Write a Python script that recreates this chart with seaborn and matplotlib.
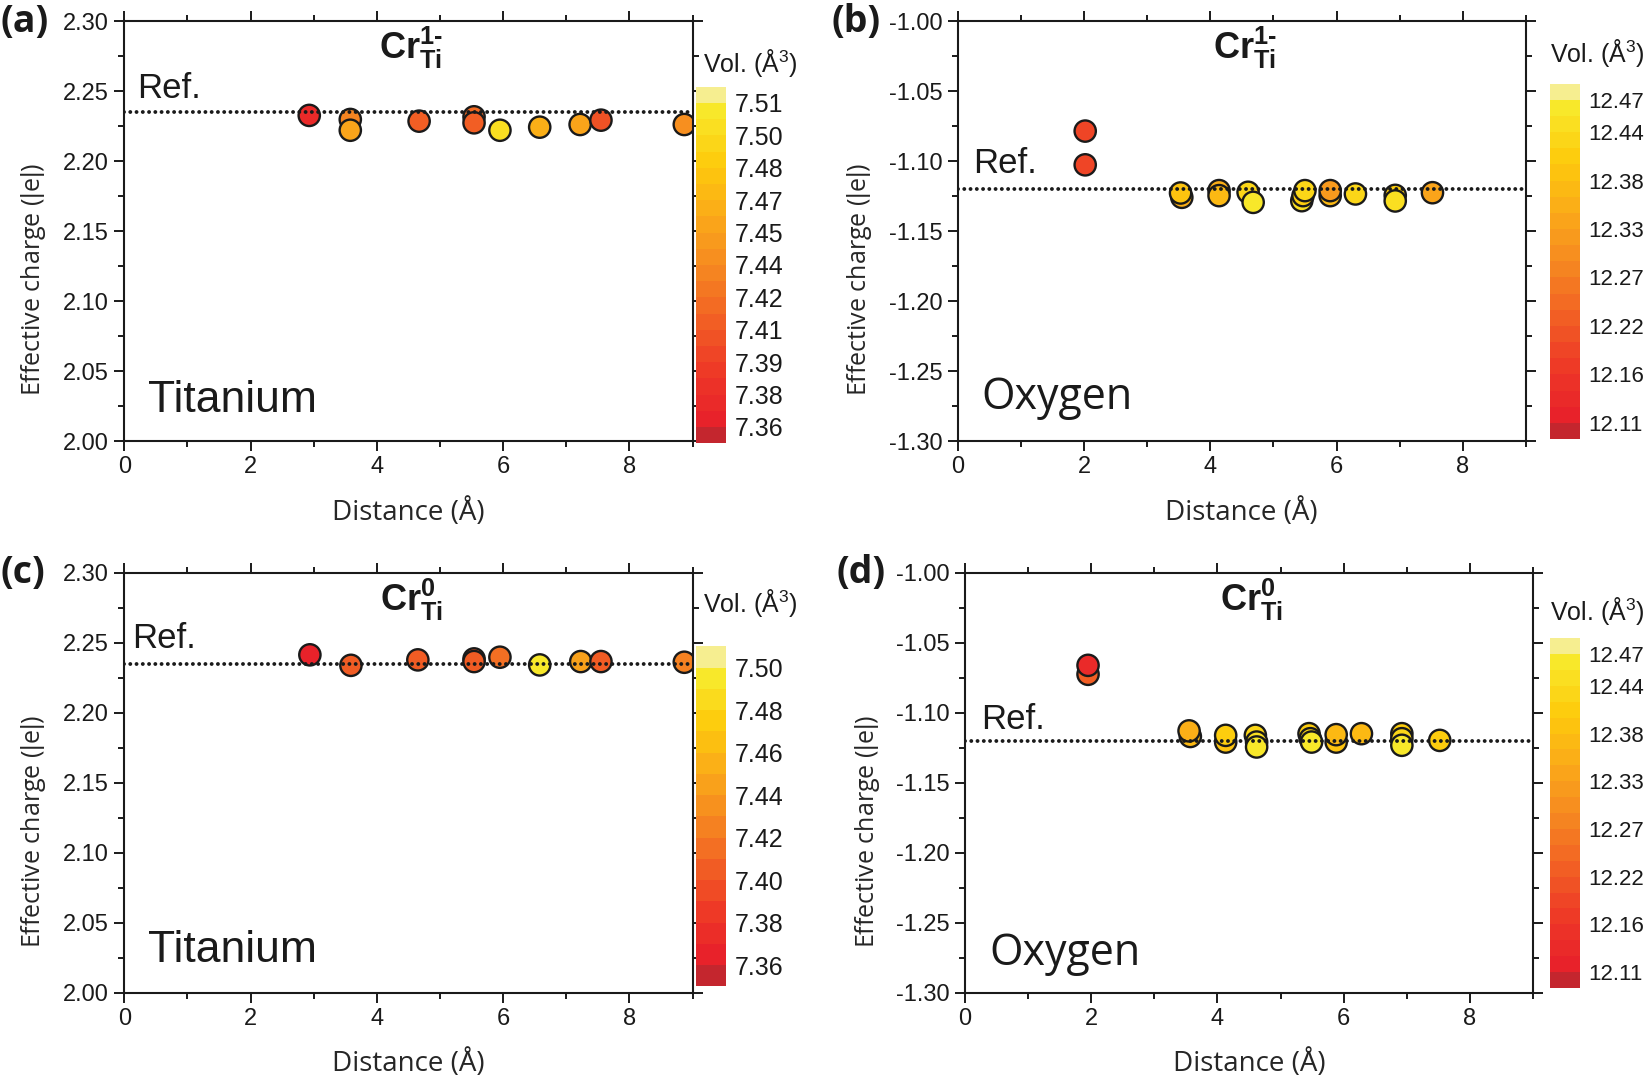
import numpy as np
import pandas as pd
import matplotlib
matplotlib.use("Agg")
import matplotlib.pyplot as plt
import seaborn as sns
from matplotlib.colors import LinearSegmentedColormap, ListedColormap, Normalize
from matplotlib.ticker import MultipleLocator, FormatStrFormatter
from matplotlib import font_manager as fm

# ---------------- data ----------------
ti_m1_dist = [2.93, 3.58, 3.58, 4.67, 5.54, 5.54, 5.95, 6.58, 7.22, 7.55, 8.87]
ti_m1_charge = [2.2326, 2.2297, 2.2220, 2.2285, 2.2316, 2.2273, 2.2220, 2.2242, 2.2261, 2.2292, 2.2261]
ti_m1_vol = [7.37, 7.43, 7.45, 7.41, 7.42, 7.41, 7.50, 7.46, 7.45, 7.40, 7.44]

o_m1_dist = [2.02, 2.02, 3.55, 3.53, 4.14, 4.14, 4.60, 4.68, 5.45, 5.47, 5.50,
             5.90, 5.90, 6.30, 6.93, 6.93, 7.52]
o_m1_charge = [-1.0786, -1.1027, -1.1259, -1.1228, -1.1211, -1.1247, -1.1223, -1.1295,
               -1.1283, -1.1247, -1.1211, -1.1247, -1.1211, -1.1235, -1.1245, -1.1285, -1.1226]
o_m1_vol = [12.19, 12.20, 12.36, 12.40, 12.35, 12.37, 12.43, 12.46, 12.45, 12.42, 12.44,
            12.38, 12.33, 12.43, 12.41, 12.45, 12.34]

ti_0_dist = [2.94, 3.59, 4.65, 5.54, 5.54, 5.95, 6.58, 7.23, 7.55, 8.87]
ti_0_charge = [2.2413, 2.2338, 2.2377, 2.2384, 2.2365, 2.2396, 2.2341, 2.2365, 2.2365, 2.2360]
ti_0_vol = [7.37, 7.41, 7.40, 7.40, 7.41, 7.42, 7.49, 7.44, 7.41, 7.43]

o_0_dist = [1.95, 1.95, 3.57, 3.55, 4.13, 4.13, 4.60, 4.62, 4.62, 5.45, 5.47, 5.49,
            5.88, 5.88, 6.28, 6.92, 6.92, 6.92, 7.52]
o_0_charge = [-1.0726, -1.0662, -1.1170, -1.1130, -1.1210, -1.1162, -1.1162, -1.1210, -1.1245,
              -1.1150, -1.1186, -1.1210, -1.1210, -1.1157, -1.1150, -1.1150, -1.1186, -1.1233, -1.1198]
o_0_vol = [12.23, 12.13, 12.38, 12.35, 12.40, 12.41, 12.43, 12.45, 12.46, 12.42, 12.44, 12.46,
           12.40, 12.37, 12.37, 12.41, 12.43, 12.46, 12.42]

ref_ti = 2.235
ref_o = -1.120

cb_a_labels = ["7.36", "7.38", "7.39", "7.41", "7.42", "7.44", "7.45", "7.47", "7.48", "7.50", "7.51"]
cb_c_labels = ["7.36", "7.38", "7.40", "7.42", "7.44", "7.46", "7.48", "7.50"]
cb_o_labels = ["12.11", "12.16", "12.22", "12.27", "12.33", "12.38", "12.44", "12.47"]
cb_o_ticks = [12.11, 12.165, 12.22, 12.275, 12.33, 12.385, 12.44, 12.4767]

# ---------------- style ----------------
sns.set_theme(style="ticks")
names = {f.name for f in fm.fontManager.ttflist}
BASE = "Liberation Sans" if "Liberation Sans" in names else "DejaVu Sans"
NARROW = "Liberation Sans Narrow" if "Liberation Sans Narrow" in names else BASE
LABEL = "Open Sans" if "Open Sans" in names else BASE
plt.rcParams["font.family"] = [BASE, "DejaVu Sans"]
plt.rcParams["mathtext.fontset"] = "custom"
plt.rcParams["mathtext.rm"] = BASE
plt.rcParams["mathtext.it"] = BASE
plt.rcParams["mathtext.bf"] = BASE + ":bold"
plt.rcParams["axes.edgecolor"] = "#1a1a1a"
plt.rcParams["xtick.color"] = "#1a1a1a"
plt.rcParams["ytick.color"] = "#1a1a1a"
plt.rcParams["text.color"] = "#1a1a1a"

interior = LinearSegmentedColormap.from_list(
    "vol", ["#e8222a", "#ee3b26", "#f26324", "#f68a20", "#fbab19", "#fdcb0c", "#f8e82a"])


def band_cmap(n):
    cm = ListedColormap(interior(np.linspace(0, 1, n)))
    cm.set_under("#c4262e")
    cm.set_over("#f6ee90")
    return cm


fig = plt.figure(figsize=(16.5, 10.78), dpi=100)


def panel(rect, crect, dist, charge, vol, ref, ylim, vmin, vmax, nb, cticks, clabels, csize,
          title, reftxt, elem, elem_font, elem_size, vol_lab, plab, ylab_x):
    ax = fig.add_axes(rect)
    df = pd.DataFrame({"d": dist, "q": charge, "v": vol})
    cmap = band_cmap(nb)
    norm = Normalize(vmin=vmin, vmax=vmax)
    sns.scatterplot(data=df, x="d", y="q", hue="v", palette=cmap, hue_norm=norm,
                    s=235, edgecolor="#1a1a1a", linewidth=1.7, legend=False, ax=ax, zorder=2)
    ax.axhline(ref, color="#1a1a1a", lw=2.8, ls=(0, (0.01, 1.6)),
               dash_capstyle="round", zorder=3)
    ax.set_xlim(0, 9)
    ax.set_ylim(*ylim)
    ax.xaxis.set_major_locator(MultipleLocator(2))
    ax.xaxis.set_minor_locator(MultipleLocator(1))
    ax.yaxis.set_major_locator(MultipleLocator(0.05))
    ax.yaxis.set_minor_locator(MultipleLocator(0.025))
    ax.yaxis.set_major_formatter(FormatStrFormatter("%.2f"))
    ax.tick_params(which="both", direction="out", top=True, right=True,
                   labeltop=False, labelright=False, width=1.4, labelsize=17)
    ax.tick_params(which="major", length=7.5)
    ax.tick_params(which="minor", length=4.5)
    for sp in ax.spines.values():
        sp.set_linewidth(1.5)
        sp.set_visible(True)
    ax.set_xlabel("Distance (Å)", family=LABEL, fontsize=20, labelpad=14)
    ax.set_ylabel("Effective charge ($|$e$|$)", family=LABEL, fontsize=18)
    ax.yaxis.set_label_coords(ylab_x, 0.385)
    ax.text(0.505, 0.935, title, transform=ax.transAxes, ha="center", va="center", fontsize=26)
    ax.text(reftxt[0], reftxt[1], "Ref.", fontsize=25, ha="left", va="center")
    ax.text(elem[0], elem[1], elem[2], family=elem_font, fontsize=elem_size, ha="left", va="center")

    cax = fig.add_axes(crect)
    sm = matplotlib.cm.ScalarMappable(norm=norm, cmap=cmap)
    cb = fig.colorbar(sm, cax=cax, extend="both", extendrect=True, extendfrac=1.0 / nb)
    cb.outline.set_visible(False)
    cb.set_ticks(cticks, labels=clabels)
    cb.ax.minorticks_off()
    cb.ax.tick_params(length=0, pad=6, labelsize=csize)
    fig.text(vol_lab[0], vol_lab[1], "Vol. (Å$^{3}$)", fontsize=18, ha="left", va="center")
    fig.text(plab[0], plab[1], plab[2], family=LABEL, fontsize=27, fontweight="bold",
             ha="left", va="center")
    return ax


title_m1 = "$\\mathbf{Cr}^{\\mathbf{1\u2010}}_{\\mathbf{Ti}}$"
title_0 = r"$\mathbf{Cr}^{\mathbf{0}}_{\mathbf{Ti}}$"

el_ti_size = 36 if NARROW != BASE else 32

panel([0.0753, 0.5908, 0.3444, 0.3897], [0.4220, 0.5889, 0.0182, 0.3306],
      ti_m1_dist, ti_m1_charge, ti_m1_vol, ref_ti, (2.00, 2.30),
      7.36, 7.51, 20, np.linspace(7.36, 7.51, 11), cb_a_labels, 18,
      title_m1, (0.2, 2.252), (0.37, 2.029, "Titanium"), NARROW, el_ti_size,
      (0.426, 0.9415), (0.0, 0.980, "(a)"), -0.135)

panel([0.5804, 0.5908, 0.3444, 0.3897], [0.9394, 0.5928, 0.0182, 0.3296],
      o_m1_dist, o_m1_charge, o_m1_vol, ref_o, (-1.30, -1.00),
      12.11, 12.4767, 20, cb_o_ticks, cb_o_labels, 16,
      title_m1, (0.25, -1.1015), (0.38, -1.269, "Oxygen"), LABEL, 31,
      (0.9394, 0.951), (0.504, 0.980, "(b)"), -0.148)

panel([0.0753, 0.0791, 0.3444, 0.3897], [0.4220, 0.0850, 0.0182, 0.3154],
      ti_0_dist, ti_0_charge, ti_0_vol, ref_ti, (2.00, 2.30),
      7.36, 7.50, 14, np.linspace(7.36, 7.50, 8), cb_c_labels, 18,
      title_0, (0.12, 2.253), (0.37, 2.03, "Titanium"), NARROW, el_ti_size,
      (0.426, 0.4404), (0.0, 0.468, "(c)"), -0.135)

panel([0.5848, 0.0791, 0.3444, 0.3897], [0.9394, 0.0835, 0.0182, 0.3245],
      o_0_dist, o_0_charge, o_0_vol, ref_o, (-1.30, -1.00),
      12.11, 12.4767, 20, cb_o_ticks, cb_o_labels, 16,
      title_0, (0.25, -1.105), (0.38, -1.272, "Oxygen"), LABEL, 31,
      (0.9394, 0.4330), (0.507, 0.468, "(d)"), -0.146)

fig.savefig("out.png", dpi=100)
